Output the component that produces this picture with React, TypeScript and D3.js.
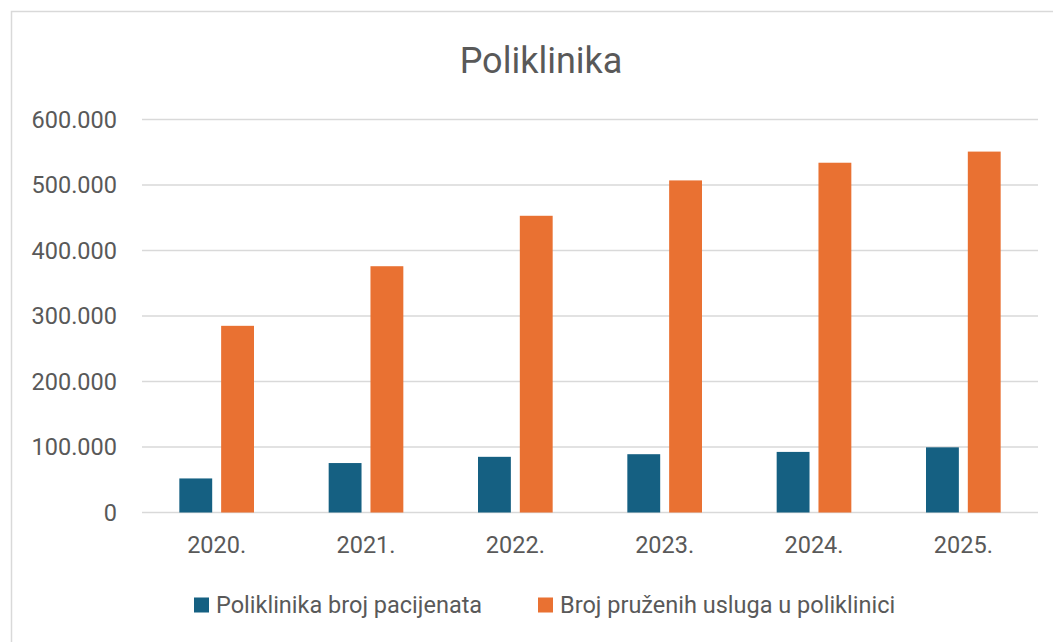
import React from "react";
import * as d3 from "d3";

const years = ["2020.", "2021.", "2022.", "2023.", "2024.", "2025."];
const patients = [52000, 75500, 85000, 89000, 92500, 99500];
const services = [285000, 376000, 453000, 507000, 534000, 551000];
const yTicks = [0, 100000, 200000, 300000, 400000, 500000, 600000];
const seriesNames = ["Poliklinika broj pacijenata", "Broj pruženih usluga u poliklinici"];
const seriesColors = ["#156082", "#E97132"];

const W = 1053;
const H = 642;
const FONT = "Roboto, 'Liberation Sans', sans-serif";
const TEXT = "#595959";

const fmt = (v: number) => (v === 0 ? "0" : d3.format(",")(v).replace(/,/g, "."));

export default function App() {
  const plot = { left: 142, right: 1038, top: 119.5, bottom: 512.5 };

  const x0 = d3.scaleBand<string>().domain(years).range([plot.left, plot.right]).padding(0);
  const groupW = x0.bandwidth() * 0.5;
  const x1 = d3.scaleBand<number>().domain([0, 1]).range([0, groupW]).paddingInner(0.214);
  const y = d3.scaleLinear().domain([0, 600000]).range([plot.bottom, plot.top]);

  const series = [patients, services];

  return (
    <svg
      width={W}
      height={H}
      style={{ position: "absolute", left: 0, top: 0, background: "#fff" }}
      fontFamily={FONT}
    >
      <rect x={11.5} y={11.5} width={W} height={H} fill="#fff" stroke="#d9d9d9" strokeWidth={1.5} />

      <text x={541} y={73} textAnchor="middle" fontSize={36} fill={TEXT}>
        Poliklinika
      </text>

      {yTicks.map((t) => (
        <g key={t}>
          <line x1={plot.left} x2={plot.right} y1={y(t)} y2={y(t)} stroke="#d9d9d9" strokeWidth={1.5} />
          <text x={117} y={y(t)} dy="0.35em" textAnchor="end" fontSize={23.5} fill={TEXT}>
            {fmt(t)}
          </text>
        </g>
      ))}

      {years.map((yr, i) => {
        const gx = x0(yr)! + (x0.bandwidth() - groupW) / 2;
        return (
          <g key={yr}>
            {series.map((vals, s) => (
              <rect
                key={s}
                x={gx + x1(s)!}
                y={y(vals[i])}
                width={x1.bandwidth()}
                height={y(0) - y(vals[i])}
                fill={seriesColors[s]}
              />
            ))}
            <text
              x={x0(yr)! + x0.bandwidth() / 2}
              y={545}
              dy="0.35em"
              textAnchor="middle"
              fontSize={23.5}
              fill={TEXT}
            >
              {yr}
            </text>
          </g>
        );
      })}

      {seriesNames.map((name, s) => {
        const lx = [194, 538][s];
        return (
          <g key={name} transform={`translate(${lx},605)`}>
            <rect x={0} y={-7.5} width={15} height={15} fill={seriesColors[s]} />
            <text x={22} y={0} dy="0.35em" fontSize={23.5} fill={TEXT}>
              {name}
            </text>
          </g>
        );
      })}
    </svg>
  );
}
